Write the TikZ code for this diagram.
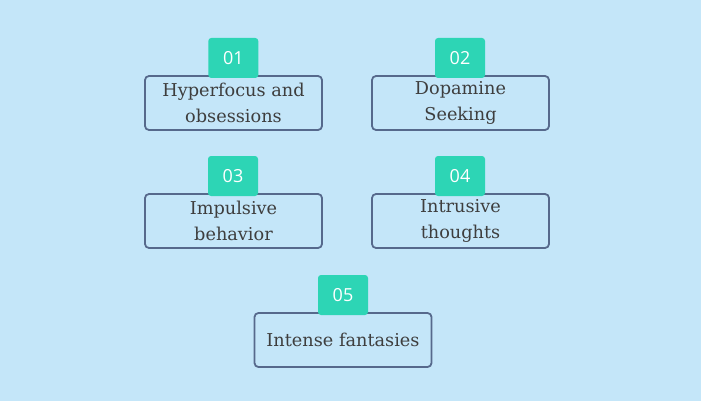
\documentclass[tikz,border=0pt]{standalone}
\usepackage{fontspec}
\setmainfont{DejaVu Serif}
\newfontfamily\numfont{Open Sans}
\definecolor{bgc}{HTML}{C4E6F9}
\definecolor{tagc}{HTML}{2DD5B5}
\definecolor{brd}{HTML}{56698C}
\definecolor{txt}{HTML}{3E3E3E}
\begin{document}
\begin{tikzpicture}[x=1pt,y=-1pt,
  itembox/.style={draw=brd, line width=1.8pt, rounded corners=4pt, fill=bgc,
    minimum width=177pt, minimum height=54pt, inner sep=0pt, align=center,
    text=txt, font=\fontsize{17.7}{25.5}\selectfont},
  numtag/.style={fill=tagc, rounded corners=3pt, minimum width=50pt, minimum height=40pt,
    inner sep=0pt, text=white, font=\numfont\fontsize{18}{20}\selectfont}]
\useasboundingbox[fill=bgc] (0,0) rectangle (701,401);
\node[itembox] (b1) at (233.5,103) {Hyperfocus and\\obsessions};
\node[itembox] (b2) at (460.5,103) {Dopamine\\Seeking};
\node[itembox] (b3) at (233.5,221) {Impulsive\\behavior};
\node[itembox] (b4) at (460.5,221) {Intrusive\\thoughts};
\node[itembox] (b5) at (343,340) {Intense fantasies};
\node[numtag] (t1) at (233.3,58) {01};
\node[numtag] (t2) at (460,58) {02};
\node[numtag] (t3) at (233,176) {03};
\node[numtag] (t4) at (460,176) {04};
\node[numtag] (t5) at (343,295) {05};
\end{tikzpicture}
\end{document}
